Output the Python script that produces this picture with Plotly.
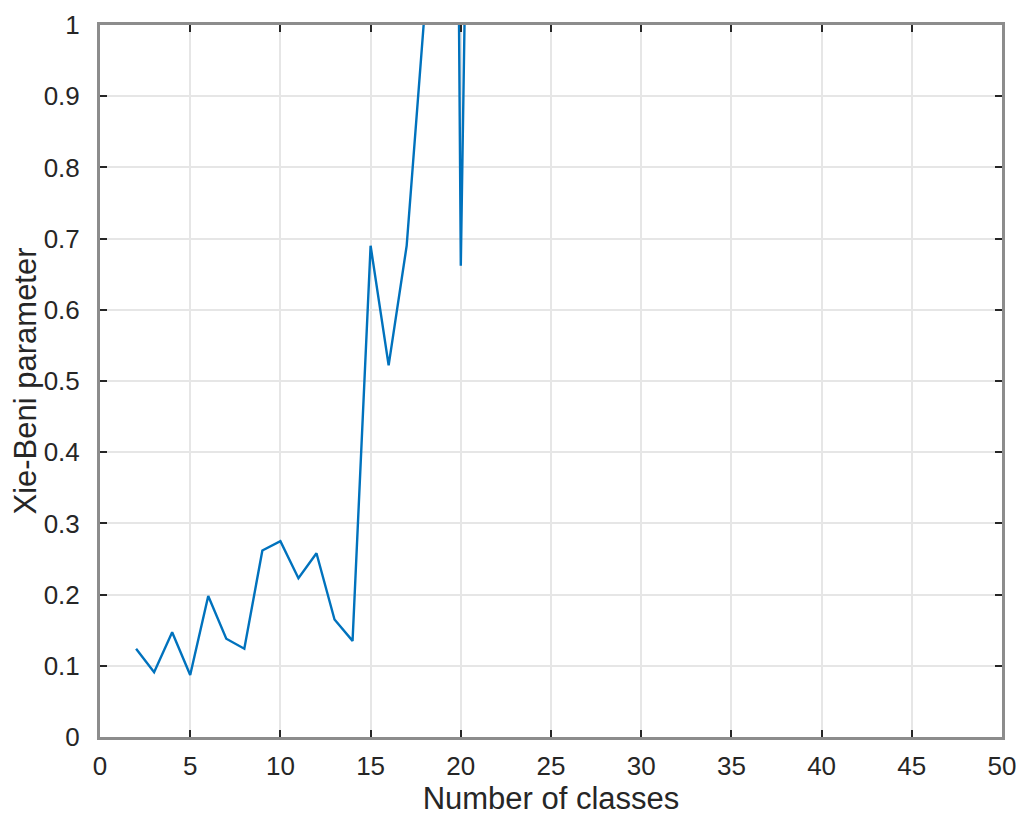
import plotly.graph_objects as go

# Number of classes tried
n_classes = list(range(2, 51))

# Xie-Beni value per class count (values above 1 fall outside the plotted window)
xie_beni = [0.124, 0.091, 0.147, 0.087, 0.198, 0.138, 0.124, 0.262, 0.275,
            0.223, 0.258, 0.165, 0.135, 0.690, 0.522, 0.690, 1.02, 4.1, 0.662,
            2.5, 3.1, 5.6, 2.9, 7.4, 4.8, 3.6, 6.2, 9.1, 5.3, 4.4, 8.7, 6.9,
            12.3, 7.8, 5.9, 10.4, 14.2, 9.6, 8.1, 13.5, 11.7, 16.8, 10.9,
            15.2, 19.4, 13.8, 17.1, 22.6, 18.3]

x_ticks = list(range(0, 51, 5))
y_ticks = [0, 0.1, 0.2, 0.3, 0.4, 0.5, 0.6, 0.7, 0.8, 0.9, 1]

font_family = 'Liberation Sans, Arial, sans-serif'

fig = go.Figure()

fig.add_trace(go.Scatter(
    x=n_classes,
    y=xie_beni,
    mode='lines',
    line=dict(color='#0072BD', width=2.4),
    showlegend=False,
))

axis_style = dict(
    showline=True,
    linecolor='#8c8c8c',
    linewidth=3,
    mirror='allticks',
    ticks='inside',
    ticklen=7,
    tickwidth=2,
    tickcolor='#262626',
    showgrid=True,
    gridcolor='#e6e6e6',
    gridwidth=2,
    zeroline=False,
    automargin=False,
    tickfont=dict(family=font_family, size=26, color='#262626'),
)

fig.update_xaxes(
    range=[0, 50],
    tickvals=x_ticks,
    ticklabelstandoff=4,
    title=dict(text='Number of classes', standoff=4,
               font=dict(family=font_family, size=31, color='#262626')),
    **axis_style,
)

fig.update_yaxes(
    range=[0, 1],
    tickvals=y_ticks,
    ticklabelstandoff=12,
    title=dict(text='Xie-Beni parameter', standoff=6,
               font=dict(family=font_family, size=31, color='#262626')),
    **axis_style,
)

fig.update_layout(
    width=1024,
    height=824,
    margin=dict(l=92, r=30, t=17, b=95),
    paper_bgcolor='white',
    plot_bgcolor='white',
)

fig.write_html("out.html")
